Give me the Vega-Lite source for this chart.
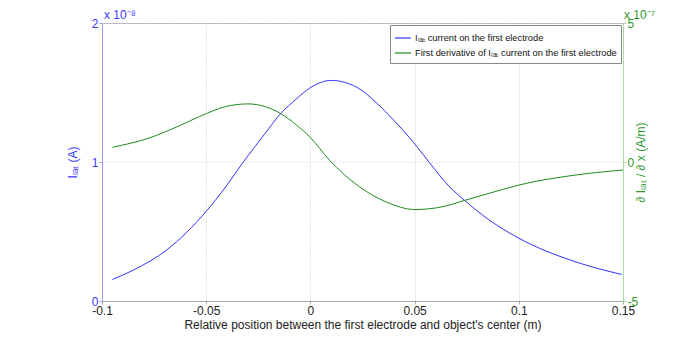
{
  "$schema": "https://vega.github.io/schema/vega-lite/v6.json",
  "autosize": "none",
  "width": 521,
  "height": 278,
  "padding": {"left": 102, "top": 23, "right": 50, "bottom": 38},
  "background": "white",
  "config": {
    "font": "Liberation Sans",
    "view": {"stroke": "#b0b0b0", "strokeWidth": 1},
    "axis": {"labelFont": "Liberation Sans", "titleFont": "Liberation Sans", "labelFontSize": 12, "titleFontSize": 12, "titleFontWeight": "normal"}
  },
  "datasets": {
    "current": [
      {"x": -0.095, "v": 0.155},
      {"x": -0.085, "v": 0.222},
      {"x": -0.069, "v": 0.367},
      {"x": -0.05, "v": 0.645},
      {"x": -0.0403, "v": 0.828},
      {"x": -0.0324, "v": 0.996},
      {"x": -0.022, "v": 1.2},
      {"x": -0.014, "v": 1.353},
      {"x": -0.007, "v": 1.45},
      {"x": 0, "v": 1.535},
      {"x": 0.01, "v": 1.587},
      {"x": 0.0235, "v": 1.527},
      {"x": 0.0314, "v": 1.43},
      {"x": 0.0394, "v": 1.31},
      {"x": 0.0502, "v": 1.128},
      {"x": 0.0569, "v": 1.0},
      {"x": 0.0665, "v": 0.826},
      {"x": 0.0745, "v": 0.717},
      {"x": 0.0856, "v": 0.585},
      {"x": 0.1, "v": 0.452},
      {"x": 0.127, "v": 0.283},
      {"x": 0.1494, "v": 0.191}
    ],
    "derivative": [
      {"x": -0.095, "d": 0.53},
      {"x": -0.0777, "d": 0.855},
      {"x": -0.063, "d": 1.3},
      {"x": -0.0531, "d": 1.64},
      {"x": -0.0403, "d": 2.0},
      {"x": -0.03, "d": 2.09},
      {"x": -0.014, "d": 1.73},
      {"x": -0.007, "d": 1.35},
      {"x": 0, "d": 0.88},
      {"x": 0.0091, "d": 0.07},
      {"x": 0.0235, "d": -0.89},
      {"x": 0.0362, "d": -1.43},
      {"x": 0.0502, "d": -1.71},
      {"x": 0.0633, "d": -1.61},
      {"x": 0.0745, "d": -1.37},
      {"x": 0.0856, "d": -1.13},
      {"x": 0.1, "d": -0.83},
      {"x": 0.127, "d": -0.47},
      {"x": 0.15, "d": -0.29}
    ],
    "leftExp": [{"x": -0.1, "v": 2, "t": "x 10⁻⁸"}],
    "rightExp": [{"x": 0.15, "d": 5, "t": "x 10⁻⁷"}]
  },
  "encoding": {
    "x": {
      "field": "x", "type": "quantitative",
      "scale": {"domain": [-0.1, 0.15], "nice": false, "zero": false},
      "axis": {
        "title": "Relative position between the first electrode and object's center (m)",
        "values": [-0.1, -0.05, 0, 0.05, 0.1, 0.15],
        "labelExpr": "replace(format(datum.value, '.2~f'), '−', '-')",
        "labelOverlap": false,
        "domainColor": "#aaaaaa", "tickColor": "#aaaaaa", "tickSize": 3,
        "labelColor": "#222222", "titleColor": "#222222",
        "labelPadding": 1, "titlePadding": 3,
        "grid": true, "gridColor": "#c8c8c8", "gridDash": [1, 2],
        "labelFlush": false
      }
    }
  },
  "layer": [
    {
      "layer": [
        {
          "data": {"name": "current"},
          "mark": {"type": "line", "interpolate": "monotone", "strokeWidth": 1},
          "encoding": {
            "y": {
              "field": "v", "type": "quantitative",
              "scale": {"domain": [0, 2], "nice": false, "zero": false},
              "axis": {
                "title": "Iₗₐₜ (A)", "values": [0, 1, 2],
                "labelExpr": "format(datum.value, 'd')",
                "labelOverlap": false,
                "domainColor": "#9a9aff", "tickColor": "#9a9aff", "tickSize": 3,
                "labelColor": "#3a3aff", "titleColor": "#3a3aff",
                "labelPadding": 1, "titlePadding": 12,
                "grid": true, "gridColor": "#d4d4ff", "gridDash": [1, 2],
                "labelFlush": false
              }
            },
            "color": {
              "datum": "Iₗₐₜ current on the first electrode",
              "type": "nominal",
              "scale": {
                "domain": ["Iₗₐₜ current on the first electrode", "First derivative of Iₗₐₜ current on the first electrode"],
                "range": ["#3333ff", "#1f8a1f"]
              },
              "legend": {
                "title": null, "orient": "top-right", "offset": 2,
                "symbolType": "stroke", "symbolSize": 256, "symbolStrokeWidth": 1.2,
                "labelFontSize": 9.3, "labelColor": "#111111", "labelFont": "Liberation Sans",
                "labelLimit": 0, "labelOffset": 3,
                "strokeColor": "#888888", "fillColor": "white", "padding": 4, "rowPadding": 0
              }
            }
          }
        },
        {
          "data": {"name": "leftExp"},
          "mark": {"type": "text", "align": "left", "baseline": "bottom", "dx": 2, "dy": -1, "fontSize": 12, "color": "#3a3aff", "font": "Liberation Sans"},
          "encoding": {"y": {"field": "v", "type": "quantitative"}, "text": {"field": "t"}}
        }
      ]
    },
    {
      "layer": [
        {
          "data": {"name": "derivative"},
          "mark": {"type": "line", "interpolate": "monotone", "strokeWidth": 1},
          "encoding": {
            "y": {
              "field": "d", "type": "quantitative",
              "scale": {"domain": [-5, 5], "nice": false, "zero": false},
              "axis": {
                "orient": "right",
                "title": "∂ Iₗₐₜ / ∂ x (A/m)", "titleAngle": 270,
                "values": [-5, 0, 5],
                "labelExpr": "replace(format(datum.value, 'd'), '−', '-')",
                "labelOverlap": false,
                "domainColor": "#a8dca8", "tickColor": "#a8dca8", "tickSize": 3,
                "labelColor": "#2e9a2e", "titleColor": "#2e9a2e",
                "labelPadding": 1, "titlePadding": 10,
                "grid": false, "labelFlush": false
              }
            },
            "color": {"datum": "First derivative of Iₗₐₜ current on the first electrode", "type": "nominal"}
          }
        },
        {
          "data": {"name": "rightExp"},
          "mark": {"type": "text", "align": "left", "baseline": "bottom", "dx": 1, "dy": -1, "fontSize": 12, "color": "#2e9a2e", "font": "Liberation Sans"},
          "encoding": {"y": {"field": "d", "type": "quantitative"}, "text": {"field": "t"}}
        }
      ]
    }
  ],
  "resolve": {"scale": {"y": "independent"}}
}
